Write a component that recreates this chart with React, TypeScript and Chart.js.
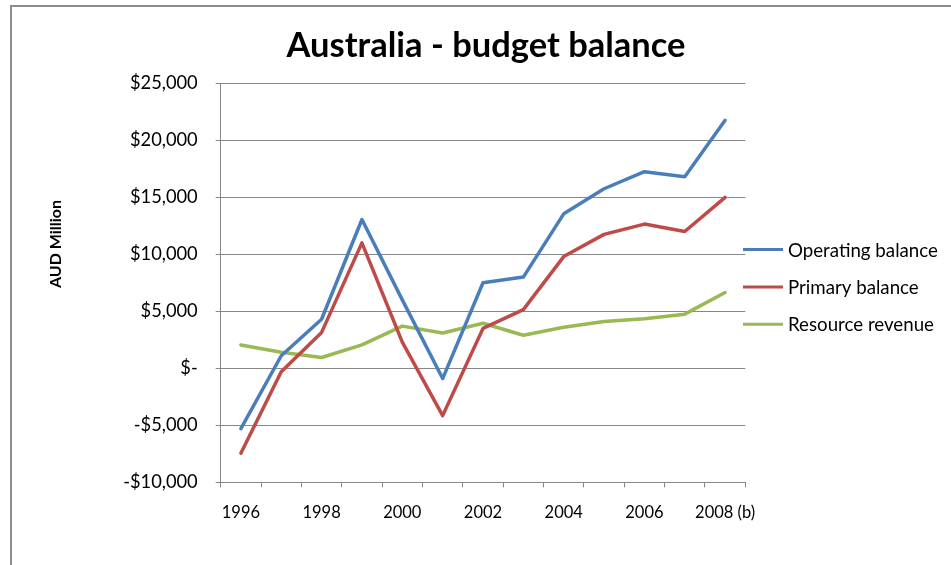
import React, { useEffect, useRef } from "react";
import { Chart, registerables } from "chart.js";

Chart.register(...registerables);

const categories = ["1996", "1997", "1998", "1999", "2000", "2001", "2002", "2003", "2004", "2005", "2006", "2007", "2008 (b)"];
const operatingBalance = [-5300, 1100, 4300, 13050, 6000, -900, 7500, 8000, 13550, 15750, 17250, 16800, 21750];
const primaryBalance = [-7450, -300, 3150, 11000, 2300, -4150, 3500, 5150, 9800, 11750, 12650, 12000, 15000];
const resourceRevenue = [2050, 1400, 950, 2050, 3700, 3100, 3950, 2900, 3600, 4100, 4350, 4750, 6650];
const seriesNames = ["Operating balance", "Primary balance", "Resource revenue"];
const seriesColors = ["#4a7ebb", "#be4b48", "#98b954"];
const titleText = "Australia - budget balance";
const yAxisTitle = "AUD Million";
const yMin = -10000;
const yMax = 25000;
const yStep = 5000;

const FONT = "Lato, 'Open Sans', sans-serif";

const fmt = (v: number) => {
  if (v === 0) return "$-";
  const s = "$" + Math.abs(v).toLocaleString("en-US");
  return v < 0 ? "-" + s : s;
};

const decor = {
  id: "decor",
  beforeDraw(chart: any) {
    const ctx = chart.ctx;
    ctx.save();
    ctx.strokeStyle = "#8c8c8c";
    ctx.lineWidth = 2;
    ctx.beginPath();
    ctx.moveTo(11, 565);
    ctx.lineTo(11, 6);
    ctx.lineTo(951, 6);
    ctx.stroke();
    ctx.restore();
  },
  afterDraw(chart: any) {
    const ctx = chart.ctx;
    ctx.save();
    // title
    ctx.fillStyle = "#000";
    ctx.font = `bold 34.5px ${FONT}`;
    ctx.textAlign = "center";
    ctx.textBaseline = "alphabetic";
    ctx.fillText(titleText, 486, 57);
    // y axis title
    ctx.save();
    ctx.translate(61, 244);
    ctx.rotate(-Math.PI / 2);
    ctx.font = `bold 16px ${FONT}`;
    ctx.textAlign = "center";
    ctx.fillText(yAxisTitle, 0, 0);
    ctx.restore();
    // legend
    const ds = chart.data.datasets;
    ds.forEach((d: any, i: number) => {
      const y = 249.5 + i * 37.4;
      ctx.strokeStyle = d.borderColor;
      ctx.lineWidth = 3;
      ctx.beginPath();
      ctx.moveTo(743, y);
      ctx.lineTo(783, y);
      ctx.stroke();
      ctx.fillStyle = "#000";
      ctx.font = `18.7px ${FONT}`;
      ctx.textAlign = "left";
      ctx.textBaseline = "alphabetic";
      ctx.fillText(d.label, 788, y + 7);
    });
    ctx.restore();
  },
};

export default function App() {
  const ref = useRef<HTMLCanvasElement>(null);
  useEffect(() => {
    if (!ref.current) return;
    const series = [operatingBalance, primaryBalance, resourceRevenue];
    const chart = new Chart(ref.current, {
      type: "line",
      data: {
        labels: categories,
        datasets: series.map((s, i) => ({
          label: seriesNames[i],
          data: s,
          borderColor: seriesColors[i],
          backgroundColor: seriesColors[i],
          borderWidth: 3.5,
          pointRadius: 0,
          tension: 0,
          fill: false,
          borderCapStyle: "round",
          borderJoinStyle: "round",
        })),
      },
      options: {
        responsive: false,
        animation: false,
        layout: { padding: { left: 0, right: 205.7, top: 83.3, bottom: 0 } },
        plugins: {
          legend: { display: false },
          title: { display: false },
          tooltip: { enabled: false },
        },
        scales: {
          x: {
            type: "category",
            offset: true,
            afterFit: (s: any) => {
              s.height = 82.7;
            },
            grid: {
              offset: true,
              drawOnChartArea: false,
              drawTicks: true,
              tickLength: 5,
              color: "#878787",
              lineWidth: 1,
            },
            border: { color: "#878787", width: 1 },
            ticks: {
              autoSkip: false,
              maxRotation: 0,
              minRotation: 0,
              color: "#000",
              padding: 15.5,
              font: { family: FONT, size: 16.5 },
              callback: function (this: any, _v: any, i: number) {
                return i % 2 === 0 ? categories[i] : "";
              },
            },
          },
          y: {
            min: yMin,
            max: yMax,
            afterFit: (s: any) => {
              s.width = 220.7;
            },
            grid: {
              color: "#878787",
              lineWidth: 1,
              tickLength: 5,
              drawTicks: true,
            },
            border: { color: "#878787", width: 1 },
            ticks: {
              stepSize: yStep,
              color: "#000",
              padding: 18,
              font: { family: FONT, size: 18.3 },
              callback: (v: any) => fmt(Number(v)),
            },
          },
        },
      },
      plugins: [decor],
    } as any);
    return () => chart.destroy();
  }, []);
  return (
    <div style={{ position: "fixed", left: 0, top: 0, width: 951, height: 565, background: "#fff" }}>
      <canvas ref={ref} width={951} height={565} style={{ display: "block" }} />
    </div>
  );
}
